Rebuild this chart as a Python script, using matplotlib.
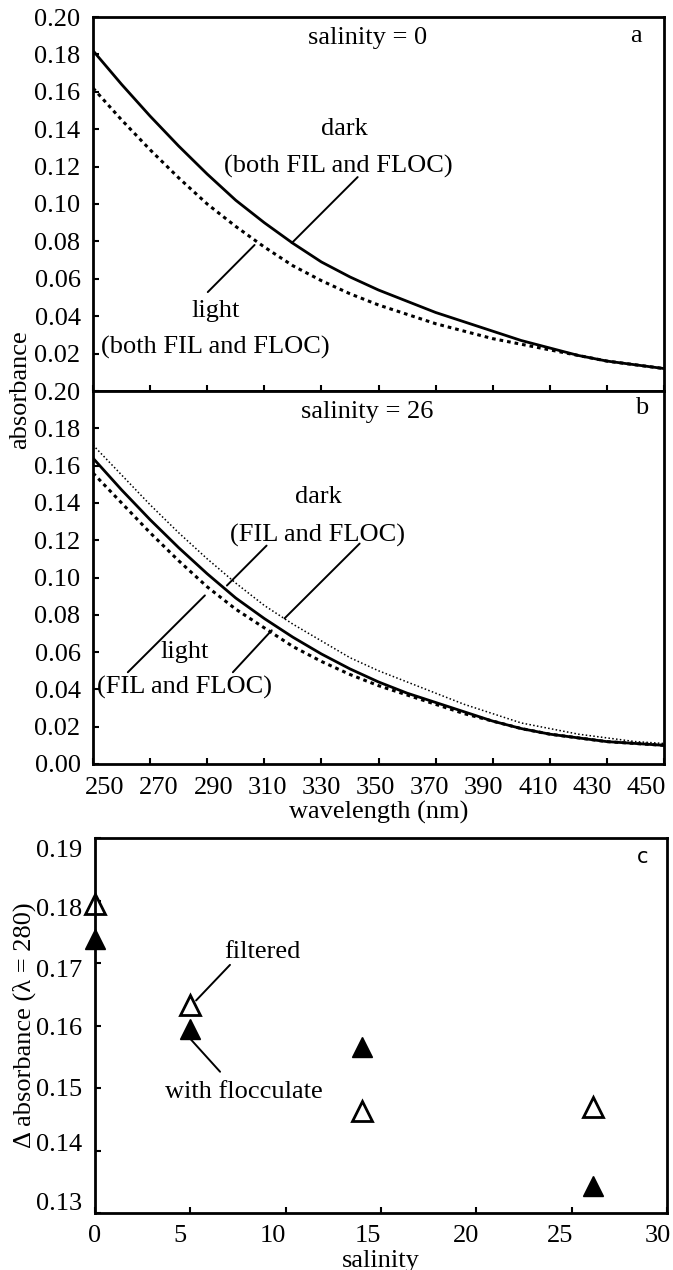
#!/usr/bin/env python3
"""Absorbance spectra (salinity 0 and 26) and delta absorbance vs salinity."""

import matplotlib.pyplot as plt
from matplotlib.transforms import Affine2D

# spectra, every 10 nm
wavelength = [250, 260, 270, 280, 290, 300, 310, 320, 330, 340, 350,
              360, 370, 380, 390, 400, 410, 420, 430, 440, 450]
sal0_dark = [0.182, 0.164, 0.147, 0.131, 0.116, 0.102, 0.090, 0.079, 0.069, 0.061, 0.054,
             0.048, 0.042, 0.037, 0.032, 0.027, 0.023, 0.019, 0.016, 0.014, 0.012]
sal0_light = [0.162, 0.145, 0.129, 0.114, 0.100, 0.088, 0.077, 0.067, 0.059, 0.052, 0.046,
              0.041, 0.036, 0.032, 0.028, 0.025, 0.022, 0.019, 0.016, 0.014, 0.012]
sal26_dark_fil = [0.164, 0.147, 0.131, 0.116, 0.102, 0.089, 0.078, 0.068, 0.059, 0.051, 0.044,
                  0.038, 0.033, 0.028, 0.023, 0.019, 0.016, 0.014, 0.012, 0.011, 0.010]
sal26_dark_floc = [0.171, 0.155, 0.139, 0.124, 0.110, 0.097, 0.085, 0.075, 0.066, 0.057, 0.050,
                   0.044, 0.038, 0.032, 0.027, 0.022, 0.019, 0.016, 0.014, 0.012, 0.011]
sal26_light = [0.156, 0.140, 0.124, 0.109, 0.095, 0.083, 0.073, 0.063, 0.055, 0.048, 0.042,
               0.037, 0.032, 0.027, 0.023, 0.019, 0.016, 0.014, 0.012, 0.011, 0.010]

# panel c
salinity = [0.0, 5.0, 14.0, 26.1]
delta_filtered = [0.1794, 0.1633, 0.1464, 0.1470]
delta_floc = [0.1738, 0.1594, 0.1566, 0.1344]

spec_ticks = [0.00, 0.02, 0.04, 0.06, 0.08, 0.10, 0.12, 0.14, 0.16, 0.18, 0.20]
wl_ticks = [250, 270, 290, 310, 330, 350, 370, 390, 410, 430, 450]
c_yticks = [0.13, 0.14, 0.15, 0.16, 0.17, 0.18, 0.19]
c_xticks = [0, 5, 10, 15, 20, 25, 30]

FS = 19
plt.rcParams["font.family"] = ["Liberation Serif", "DejaVu Serif"]
plt.rcParams["font.size"] = FS

W, H = 673, 1270
fig = plt.figure(figsize=(W / 100, H / 100), dpi=100)


def px_axes(l, t, r, b):
    return fig.add_axes([l / W, 1 - b / H, (r - l) / W, (b - t) / H])


def style(ax):
    for s in ax.spines.values():
        s.set_linewidth(2.0)
    ax.tick_params(direction="in", length=4, width=1.5, pad=9, top=False, right=False)


def nudge(labels, dx=None, dy=None):
    # the printed tick labels sit a little off their ticks; shift them in pixels
    for i, lab in enumerate(labels):
        ox = dx[i] if dx else 0
        oy = dy[i] if dy else 0
        lab.set_transform(lab.get_transform() + Affine2D().translate(ox, oy))


LINE = dict(arrowstyle="-", lw=1.4, color="black", shrinkA=0, shrinkB=0)
DASH = (0, (1.2, 1.3))

ax_a = px_axes(93, 17, 664, 391)
ax_b = px_axes(93, 391, 664, 764)
ax_c = px_axes(95, 838, 667, 1213)

# panel a
ax_a.plot(wavelength, sal0_dark, "k-", lw=2.0)
ax_a.plot(wavelength, sal0_light, color="k", lw=2.2, linestyle=DASH)
ax_a.set_xlim(250, 450)
ax_a.set_ylim(0, 0.20)
ax_a.set_xticks(wl_ticks)
ax_a.set_xticklabels([])
ax_a.set_yticks(spec_ticks[1:])
ax_a.set_yticklabels([f"{v:.2f}" for v in spec_ticks[1:]])
style(ax_a)
ax_a.text(346, 0.189, "salinity = 0", ha="center", va="center")
ax_a.text(440, 0.190, "a", ha="center", va="center")
ax_a.text(338, 0.140, "dark", ha="center", va="center")
ax_a.text(336, 0.120, "(both FIL and FLOC)", ha="center", va="center")
ax_a.text(293, 0.043, "light", ha="center", va="center")
ax_a.text(292.7, 0.0235, "(both FIL and FLOC)", ha="center", va="center")
ax_a.annotate("", xy=(319.6, 0.0791), xytext=(342.7, 0.1144), arrowprops=LINE)
ax_a.annotate("", xy=(306.6, 0.0781), xytext=(290.2, 0.0529), arrowprops=LINE)

# panel b
ax_b.plot(wavelength, sal26_dark_floc, color="k", lw=1.1, linestyle=(0, (1, 1.5)))
ax_b.plot(wavelength, sal26_dark_fil, "k-", lw=2.0)
ax_b.plot(wavelength, sal26_light, color="k", lw=2.2, linestyle=DASH)
ax_b.set_xlim(250, 450)
ax_b.set_ylim(0, 0.20)
ax_b.set_xticks(wl_ticks)
ax_b.set_yticks(spec_ticks)
ax_b.set_yticklabels([f"{v:.2f}" for v in spec_ticks])
style(ax_b)
nudge(ax_b.get_xticklabels(), dx=[12 - 3 * i for i in range(len(wl_ticks))])
ax_b.set_xlabel("wavelength (nm)", labelpad=2)
ax_b.text(346, 0.189, "salinity = 26", ha="center", va="center")
ax_b.text(442, 0.191, "b", ha="center", va="center")
ax_b.text(329, 0.143, "dark", ha="center", va="center")
ax_b.text(328.7, 0.1225, "(FIL and FLOC)", ha="center", va="center")
ax_b.text(282, 0.060, "light", ha="center", va="center")
ax_b.text(282, 0.0412, "(FIL and FLOC)", ha="center", va="center")
ax_b.annotate("", xy=(296.9, 0.0957), xytext=(310.8, 0.1171), arrowprops=LINE)
ax_b.annotate("", xy=(317.1, 0.0781), xytext=(343.4, 0.1182), arrowprops=LINE)
ax_b.annotate("", xy=(289.2, 0.0904), xytext=(262.2, 0.0492), arrowprops=LINE)
ax_b.annotate("", xy=(312.6, 0.0717), xytext=(299.0, 0.0492), arrowprops=LINE)

fig.text(20 / W, 1 - 390 / H, "absorbance", rotation=90, ha="center", va="center")

# panel c
ax_c.plot(salinity, delta_filtered, linestyle="none", marker="^", ms=15,
          mfc="white", mec="black", mew=2.0, clip_on=False)
ax_c.plot(salinity, delta_floc, linestyle="none", marker="^", ms=15,
          mfc="black", mec="black", mew=1.0, clip_on=False)
ax_c.set_xlim(0, 30)
ax_c.set_ylim(0.13, 0.19)
ax_c.set_xticks(c_xticks)
ax_c.set_yticks(c_yticks)
ax_c.set_yticklabels([f"{v:.2f}" for v in c_yticks])
style(ax_c)
nudge(ax_c.get_xticklabels(), dx=[0, -10, -13, -13, -10, -12, -9])
nudge(ax_c.get_yticklabels(), dy=[11, 8, 0, -1, -5, -7, -10])
ax_c.set_xlabel("salinity", labelpad=2)
ax_c.set_ylabel("\u0394 absorbance (\u03bb = 280)", labelpad=0)
ax_c.text(28.74, 0.187, "c", ha="center", va="center", family="DejaVu Sans", fontsize=15)
ax_c.text(8.8, 0.1718, "filtered", ha="center", va="center")
ax_c.text(7.8, 0.1494, "with flocculate", ha="center", va="center")
ax_c.annotate("", xy=(5.3, 0.1640), xytext=(7.08, 0.1697), arrowprops=LINE)
ax_c.annotate("", xy=(4.9, 0.1582), xytext=(6.56, 0.1526), arrowprops=LINE)

fig.savefig("out.png", dpi=100)
plt.close(fig)
